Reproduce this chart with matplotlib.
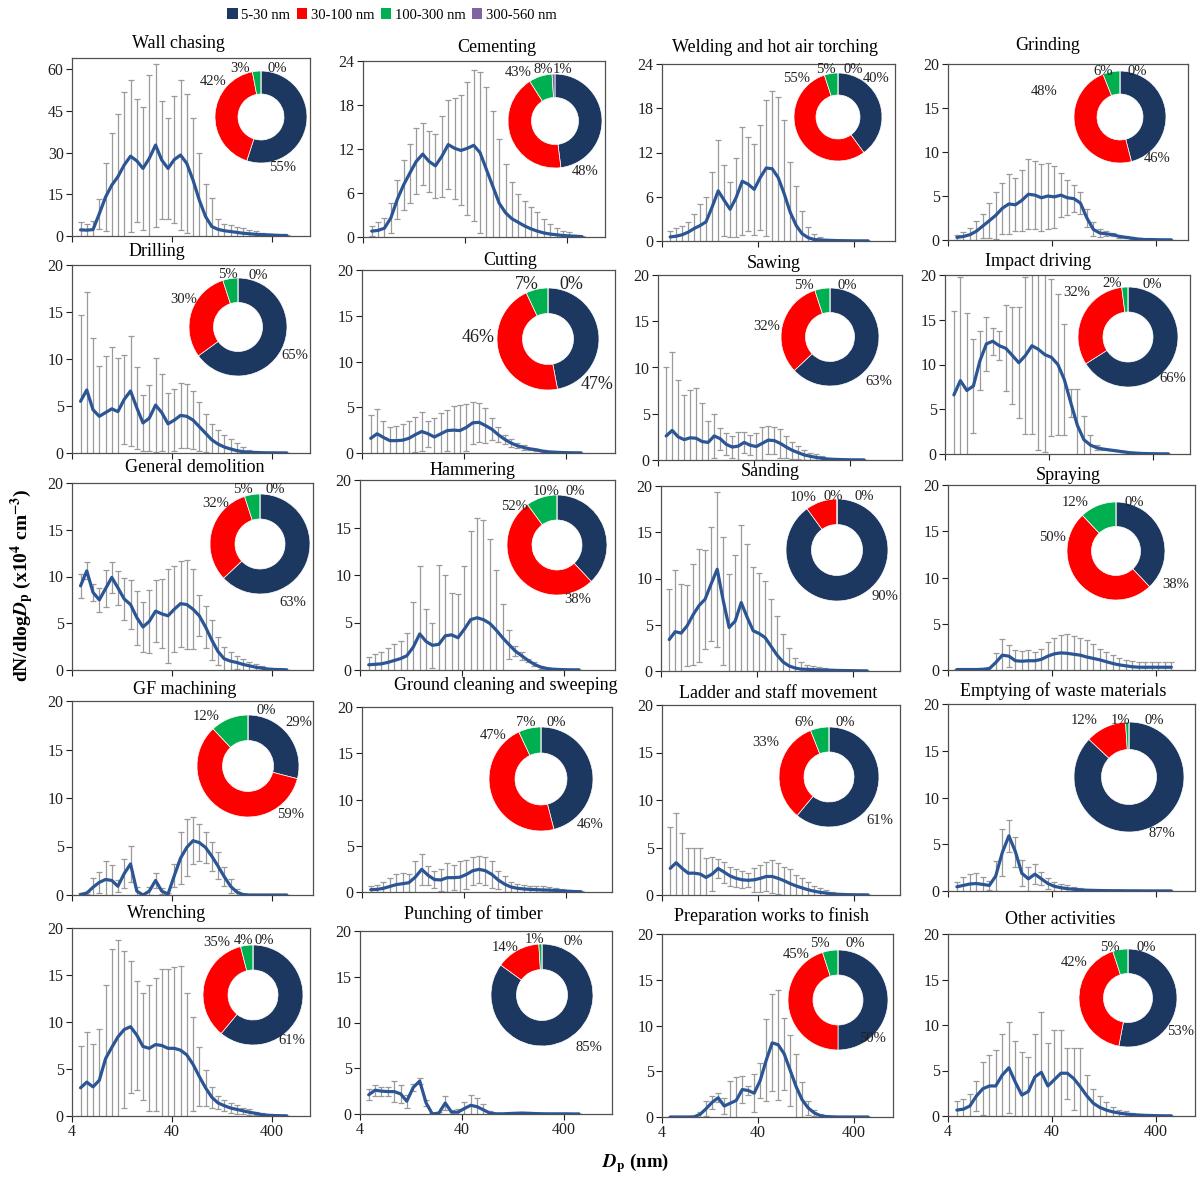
import numpy as np
import matplotlib
matplotlib.use('Agg')
import matplotlib.pyplot as plt
from matplotlib.patches import Patch
from matplotlib.ticker import NullLocator

plt.rcParams['font.family'] = ['Liberation Serif', 'DejaVu Serif']
plt.rcParams['mathtext.fontset'] = 'stix'

# ---------------- data ----------------
diameters = [4.87, 5.62, 6.49, 7.50, 8.66, 10.0, 11.5, 13.3, 15.4, 17.8, 20.5, 23.7,
             27.4, 31.6, 36.5, 42.2, 48.7, 56.2, 64.9, 75.0, 86.6, 100.0, 115, 133,
             154, 178, 205, 237, 274, 316, 365, 422, 487, 562]

size_ranges = ['5-30 nm', '30-100 nm', '100-300 nm', '300-560 nm']

wall_chasing_mean = [2.2, 2.1, 2.3, 8.0, 14.0, 18.3, 21.3, 25.5, 28.7, 27.0, 24.3, 27.9, 32.7, 27.3, 24.3, 27.5, 29.1, 26.1, 20.1, 12.9, 7.0, 3.4, 2.4, 1.9, 1.6, 1.3, 1.0, 0.8, 0.6, 0.5, 0.4, 0.3, 0.2, 0.2]
wall_chasing_upper = [5.0, 4.2, 5.5, 13.4, 26.2, 37.2, 44.0, 51.6, 56.0, 49.1, 46.5, 58.0, 62.0, 48.4, 42.4, 50.5, 56.0, 51.1, 42.3, 30.0, 18.6, 13.8, 6.0, 4.3, 3.8, 3.4, 2.8, 2.2, 1.8, 1.2, 0.8, 0.5, 0.3, 0.3]
wall_chasing_pct = [55, 42, 3, 0]

cementing_mean = [0.8, 0.9, 1.2, 2.6, 5.1, 7.1, 8.7, 10.3, 11.3, 10.3, 9.7, 11.0, 12.6, 12.1, 11.8, 12.1, 12.5, 11.5, 9.2, 6.9, 4.6, 3.3, 2.5, 2.0, 1.5, 1.1, 0.8, 0.55, 0.4, 0.3, 0.2, 0.15, 0.1, 0.05]
cementing_upper = [1.45, 2.0, 2.6, 4.7, 7.8, 10.5, 12.7, 14.8, 15.5, 14.5, 14.1, 16.5, 18.7, 19.0, 19.3, 21.2, 22.8, 22.5, 20.5, 17.2, 13.4, 10.0, 7.5, 5.9, 4.9, 4.1, 3.4, 2.5, 1.8, 1.2, 0.8, 0.7, 0.3, 0.1]
cementing_pct = [48, 43, 8, 1]

welding_mean = [0.55, 0.65, 0.85, 1.2, 1.7, 2.1, 2.6, 4.6, 6.8, 5.5, 4.3, 5.9, 8.1, 7.7, 7.0, 8.6, 9.9, 9.8, 8.6, 6.4, 3.9, 2.1, 1.0, 0.45, 0.2, 0.15, 0.1, 0.08, 0.05, 0.04, 0.03, 0.02, 0.02, 0.02]
welding_upper = [1.4, 1.8, 2.0, 2.6, 3.7, 5.0, 5.9, 9.4, 13.7, 10.3, 8.0, 11.3, 15.4, 14.1, 13.2, 15.7, 19.1, 20.4, 19.5, 16.4, 10.7, 7.5, 4.1, 1.9, 1.0, 0.5, 0.3, 0.2, 0.1, 0.08, 0.06, 0.05, 0.04, 0.04]
welding_pct = [40, 55, 5, 0]

grinding_mean = [0.3, 0.4, 0.6, 1.0, 1.6, 2.2, 2.8, 3.6, 4.1, 4.0, 4.5, 5.2, 5.1, 4.8, 5.0, 4.9, 5.1, 4.8, 4.7, 4.2, 2.5, 1.2, 0.8, 0.7, 0.6, 0.4, 0.3, 0.2, 0.1, 0.05, 0.05, 0.03, 0.02, 0.02]
grinding_upper = [0.6, 0.9, 1.4, 2.2, 3.0, 4.2, 5.5, 6.5, 7.5, 7.0, 8.0, 9.2, 9.0, 8.6, 8.8, 8.4, 7.6, 6.8, 6.2, 5.5, 3.5, 2.0, 1.3, 1.0, 0.8, 0.6, 0.4, 0.3, 0.2, 0.1, 0.07, 0.05, 0.03, 0.03]
grinding_pct = [46, 48, 6, 0]

drilling_mean = [5.5, 6.7, 4.6, 3.9, 4.3, 4.7, 4.4, 5.7, 6.6, 4.8, 3.2, 3.7, 5.1, 4.3, 3.1, 3.5, 4.0, 3.9, 3.5, 2.8, 2.1, 1.4, 0.96, 0.64, 0.43, 0.25, 0.14, 0.08, 0.05, 0.03, 0.02, 0.02, 0.01, 0.01]
drilling_upper = [14.7, 17.1, 12.2, 9.3, 10.3, 11.3, 10.1, 10.4, 12.5, 9.2, 6.2, 7.2, 10.1, 8.4, 6.4, 6.8, 7.5, 7.3, 6.6, 5.4, 4.1, 3.1, 2.4, 1.95, 1.5, 1.06, 0.64, 0.35, 0.2, 0.1, 0.05, 0.04, 0.03, 0.02]
drilling_pct = [65, 30, 5, 0]

cutting_mean = [1.6, 2.1, 1.7, 1.35, 1.35, 1.4, 1.6, 2.0, 2.35, 2.1, 1.75, 2.1, 2.45, 2.5, 2.45, 2.8, 3.3, 3.35, 3.0, 2.6, 2.0, 1.5, 1.1, 0.8, 0.6, 0.45, 0.35, 0.2, 0.12, 0.08, 0.05, 0.03, 0.02, 0.02]
cutting_upper = [4.1, 4.85, 3.5, 2.85, 2.9, 3.2, 3.5, 3.9, 4.45, 3.5, 3.8, 4.4, 4.65, 5.1, 5.3, 5.4, 5.6, 5.5, 4.9, 3.8, 2.8, 2.0, 1.5, 1.1, 0.85, 0.6, 0.45, 0.3, 0.2, 0.12, 0.08, 0.05, 0.03, 0.03]
cutting_pct = [47, 46, 7, 0]

sawing_mean = [2.6, 3.2, 2.5, 2.2, 2.4, 2.35, 2.0, 1.9, 2.6, 2.3, 1.7, 1.4, 1.5, 1.9, 1.6, 1.45, 1.8, 2.15, 2.1, 1.8, 1.4, 1.05, 0.8, 0.55, 0.4, 0.28, 0.18, 0.1, 0.07, 0.05, 0.03, 0.02, 0.02, 0.01]
sawing_upper = [10.0, 11.7, 8.7, 7.0, 7.6, 7.8, 6.2, 4.2, 5.0, 3.5, 2.9, 2.6, 3.0, 3.0, 2.7, 2.9, 3.6, 3.7, 3.6, 3.4, 2.6, 2.0, 1.5, 1.1, 0.8, 0.6, 0.4, 0.25, 0.15, 0.1, 0.06, 0.04, 0.03, 0.02]
sawing_pct = [63, 32, 5, 0]

impact_mean = [6.6, 8.2, 7.1, 7.6, 10.4, 12.3, 12.6, 12.1, 11.8, 11.0, 10.2, 11.0, 12.1, 11.7, 11.1, 10.8, 10.0, 8.3, 5.7, 3.2, 1.6, 1.0, 0.7, 0.55, 0.45, 0.35, 0.25, 0.15, 0.1, 0.06, 0.04, 0.03, 0.02, 0.02]
impact_upper = [16.0, 19.8, 15.7, 12.8, 13.7, 15.3, 14.1, 13.7, 16.6, 16.4, 16.4, 19.8, 22.0, 23.0, 22.0, 19.6, 17.9, 14.5, 7.3, 7.3, 4.2, 2.1, 1.0, 0.6, 0.5, 0.4, 0.3, 0.2, 0.12, 0.08, 0.05, 0.04, 0.03, 0.02]
impact_pct = [66, 32, 2, 0]

demolition_mean = [9.0, 10.6, 8.3, 7.5, 8.7, 9.9, 8.8, 7.6, 7.0, 5.6, 4.6, 5.2, 6.3, 6.0, 5.8, 6.5, 7.1, 7.0, 6.5, 5.8, 4.6, 3.2, 2.0, 1.2, 0.95, 0.8, 0.6, 0.45, 0.3, 0.2, 0.1, 0.06, 0.04, 0.02]
demolition_upper = [10.3, 11.5, 9.2, 8.8, 10.7, 11.6, 10.6, 9.8, 9.6, 8.5, 7.3, 8.6, 9.6, 9.7, 10.8, 11.1, 11.7, 11.8, 10.8, 8.0, 6.8, 5.3, 3.5, 2.5, 1.9, 1.5, 1.2, 0.9, 0.6, 0.4, 0.25, 0.15, 0.1, 0.05]
demolition_pct = [63, 32, 5, 0]

hammering_mean = [0.55, 0.6, 0.65, 0.8, 1.0, 1.2, 1.5, 2.4, 3.8, 3.0, 2.6, 2.7, 3.6, 3.7, 3.4, 4.3, 5.3, 5.5, 5.3, 4.9, 4.2, 3.4, 2.7, 2.0, 1.5, 1.0, 0.6, 0.3, 0.15, 0.08, 0.05, 0.03, 0.02, 0.02]
hammering_upper = [1.4, 1.7, 1.9, 2.3, 2.7, 3.1, 3.9, 7.2, 10.9, 6.4, 5.0, 11.1, 10.0, 8.1, 8.0, 11.0, 14.6, 16.0, 15.8, 13.8, 10.5, 7.0, 4.2, 2.5, 1.9, 1.2, 0.8, 0.45, 0.25, 0.12, 0.08, 0.05, 0.03, 0.03]
hammering_pct = [38, 52, 10, 0]

sanding_mean = [3.4, 4.25, 4.1, 4.9, 6.1, 7.1, 7.75, 9.4, 11.0, 7.6, 4.7, 5.4, 7.4, 5.8, 4.35, 4.05, 3.6, 2.65, 1.7, 0.96, 0.54, 0.32, 0.2, 0.18, 0.15, 0.12, 0.1, 0.08, 0.06, 0.05, 0.04, 0.03, 0.02, 0.02]
sanding_upper = [8.9, 10.9, 9.4, 9.3, 11.6, 13.2, 13.1, 15.6, 19.4, 14.5, 10.5, 12.5, 15.8, 13.7, 11.2, 10.6, 9.7, 7.8, 5.9, 4.0, 2.5, 1.4, 0.96, 0.7, 0.55, 0.4, 0.3, 0.2, 0.15, 0.1, 0.05, 0.03, 0.03, 0.02]
sanding_pct = [90, 10, 0, 0]

spraying_mean = [0.05, 0.05, 0.05, 0.05, 0.08, 0.15, 0.8, 1.6, 1.5, 1.0, 0.95, 1.0, 1.0, 1.15, 1.5, 1.75, 1.85, 1.8, 1.7, 1.6, 1.4, 1.25, 1.1, 0.9, 0.7, 0.55, 0.45, 0.35, 0.3, 0.3, 0.3, 0.3, 0.3, 0.3]
spraying_upper = [0.1, 0.1, 0.1, 0.1, 0.15, 0.3, 1.8, 3.4, 2.7, 2.2, 2.1, 2.2, 2.0, 2.3, 3.0, 3.5, 3.8, 3.9, 3.7, 3.5, 3.2, 2.8, 2.3, 2.0, 1.6, 1.3, 1.1, 1.0, 0.9, 0.9, 0.9, 0.9, 0.9, 0.9]
spraying_pct = [38, 50, 12, 0]

gf_mean = [0.05, 0.2, 0.8, 1.3, 1.6, 1.5, 0.9, 2.2, 3.2, 0.4, 0.0, 0.4, 1.5, 0.4, 0.1, 2.0, 3.8, 4.9, 5.6, 5.4, 4.9, 4.0, 3.0, 1.9, 0.9, 0.3, 0.05, 0.0, 0.0, 0.0, 0.0, 0.0, 0.0, 0.0]
gf_upper = [0.2, 0.3, 1.8, 2.4, 3.5, 3.1, 1.5, 3.7, 5.1, 0.8, 0.0, 0.8, 2.3, 0.7, 0.2, 3.2, 6.5, 7.8, 8.0, 7.3, 6.5, 5.5, 4.4, 2.9, 1.6, 0.6, 0.1, 0.0, 0.0, 0.0, 0.0, 0.0, 0.0, 0.0]
gf_pct = [29, 59, 12, 0]

ground_mean = [0.25, 0.28, 0.4, 0.6, 0.8, 0.9, 1.0, 1.6, 2.45, 1.8, 1.35, 1.3, 1.55, 1.55, 1.6, 1.9, 2.3, 2.45, 2.3, 1.9, 1.3, 0.85, 0.55, 0.4, 0.33, 0.28, 0.25, 0.22, 0.2, 0.17, 0.12, 0.08, 0.05, 0.03]
ground_upper = [0.6, 0.8, 1.1, 1.5, 2.0, 2.1, 2.0, 3.4, 4.1, 2.8, 2.3, 2.5, 3.1, 2.9, 3.4, 3.5, 3.8, 3.9, 3.8, 3.4, 2.3, 1.7, 1.1, 0.9, 0.8, 0.7, 0.65, 0.6, 0.55, 0.45, 0.35, 0.25, 0.15, 0.1]
ground_pct = [46, 47, 7, 0]

ladder_mean = [2.8, 3.4, 2.8, 2.3, 2.3, 2.2, 1.85, 2.2, 2.8, 2.4, 2.0, 1.75, 1.6, 1.55, 1.6, 1.75, 1.95, 1.95, 1.75, 1.5, 1.2, 0.95, 0.75, 0.55, 0.4, 0.28, 0.2, 0.12, 0.07, 0.05, 0.03, 0.02, 0.02, 0.01]
ladder_upper = [7.2, 8.6, 6.5, 5.0, 5.0, 4.9, 3.9, 4.0, 3.8, 3.5, 3.0, 2.7, 2.5, 2.3, 2.85, 3.2, 3.5, 3.7, 3.4, 3.0, 2.7, 2.15, 1.8, 1.4, 1.0, 0.76, 0.5, 0.35, 0.2, 0.12, 0.08, 0.05, 0.03, 0.02]
ladder_pct = [61, 33, 6, 0]

emptying_mean = [0.45, 0.6, 0.75, 0.8, 0.7, 0.6, 1.6, 4.1, 5.9, 4.2, 1.9, 1.3, 1.8, 1.3, 0.8, 0.5, 0.35, 0.25, 0.18, 0.12, 0.08, 0.06, 0.05, 0.04, 0.03, 0.03, 0.02, 0.02, 0.02, 0.01, 0.01, 0.01, 0.01, 0.01]
emptying_upper = [1.0, 1.5, 1.8, 1.9, 1.5, 1.1, 3.2, 6.6, 7.6, 5.8, 3.3, 2.6, 2.9, 2.0, 1.4, 1.0, 0.8, 0.6, 0.45, 0.35, 0.25, 0.2, 0.15, 0.1, 0.08, 0.06, 0.05, 0.04, 0.03, 0.02, 0.02, 0.02, 0.01, 0.01]
emptying_pct = [87, 12, 1, 0]

wrenching_mean = [3.0, 3.6, 3.1, 3.8, 6.1, 7.3, 8.4, 9.2, 9.5, 8.6, 7.4, 7.2, 7.6, 7.5, 7.2, 7.2, 7.0, 6.5, 5.5, 4.2, 3.0, 2.0, 1.4, 1.1, 0.85, 0.7, 0.55, 0.4, 0.28, 0.15, 0.08, 0.05, 0.03, 0.02]
wrenching_upper = [7.5, 8.9, 7.7, 9.3, 13.9, 17.8, 18.7, 17.6, 16.5, 14.4, 13.1, 13.9, 14.7, 15.6, 15.6, 15.9, 16.0, 13.1, 10.5, 7.3, 4.9, 3.1, 2.1, 1.7, 1.35, 1.2, 0.9, 0.7, 0.45, 0.3, 0.15, 0.08, 0.05, 0.03]
wrenching_pct = [61, 35, 4, 0]

punching_mean = [2.1, 2.6, 2.5, 2.45, 2.45, 2.2, 1.4, 2.9, 3.6, 1.2, 0.0, 0.1, 1.2, 0.2, 0.2, 0.6, 0.95, 0.8, 0.45, 0.1, 0.02, 0.02, 0.05, 0.08, 0.1, 0.08, 0.05, 0.03, 0.02, 0.02, 0.02, 0.02, 0.01, 0.01]
punching_upper = [2.7, 3.2, 3.0, 2.9, 3.6, 3.2, 2.1, 3.3, 3.9, 1.5, 0.1, 0.2, 2.0, 0.4, 0.5, 1.3, 2.1, 1.8, 1.1, 0.3, 0.05, 0.05, 0.1, 0.15, 0.2, 0.15, 0.1, 0.06, 0.04, 0.04, 0.03, 0.03, 0.03, 0.02]
punching_pct = [85, 14, 1, 0]

preparation_mean = [0.0, 0.0, 0.0, 0.0, 0.02, 0.3, 0.9, 1.6, 2.1, 1.2, 1.5, 1.8, 3.0, 2.9, 2.6, 4.0, 6.2, 8.1, 7.9, 6.9, 5.1, 3.3, 1.9, 1.0, 0.45, 0.15, 0.05, 0.02, 0.0, 0.0, 0.0, 0.0, 0.0, 0.0]
preparation_upper = [0.0, 0.0, 0.0, 0.0, 0.05, 0.6, 1.7, 2.3, 2.6, 2.1, 3.9, 4.4, 4.5, 3.4, 4.7, 5.9, 10.7, 13.4, 13.9, 10.8, 9.0, 6.9, 3.8, 1.8, 0.8, 0.3, 0.1, 0.05, 0.0, 0.0, 0.0, 0.0, 0.0, 0.0]
preparation_pct = [50, 45, 5, 0]

other_mean = [0.65, 0.75, 1.1, 2.2, 3.0, 3.3, 3.3, 4.5, 5.3, 3.7, 2.3, 2.7, 4.3, 4.8, 3.3, 4.0, 4.7, 4.7, 4.1, 3.2, 2.2, 1.4, 0.95, 0.65, 0.45, 0.32, 0.22, 0.15, 0.1, 0.07, 0.05, 0.03, 0.02, 0.02]
other_upper = [1.6, 1.9, 2.4, 3.8, 5.9, 6.7, 7.2, 9.0, 10.3, 8.2, 7.0, 6.5, 9.0, 11.4, 8.0, 9.5, 9.5, 7.5, 7.5, 7.5, 4.5, 3.0, 2.2, 1.5, 1.0, 0.7, 0.5, 0.35, 0.25, 0.15, 0.1, 0.06, 0.04, 0.03]
other_pct = [53, 42, 5, 0]

titles = ['Wall chasing', 'Cementing', 'Welding and hot air torching', 'Grinding',
          'Drilling', 'Cutting', 'Sawing', 'Impact driving',
          'General demolition', 'Hammering', 'Sanding', 'Spraying',
          'GF machining', 'Ground cleaning and sweeping', 'Ladder and staff movement', 'Emptying of waste materials',
          'Wrenching', 'Punching of timber', 'Preparation works to finish', 'Other activities']

means = [wall_chasing_mean, cementing_mean, welding_mean, grinding_mean,
         drilling_mean, cutting_mean, sawing_mean, impact_mean,
         demolition_mean, hammering_mean, sanding_mean, spraying_mean,
         gf_mean, ground_mean, ladder_mean, emptying_mean,
         wrenching_mean, punching_mean, preparation_mean, other_mean]
uppers = [wall_chasing_upper, cementing_upper, welding_upper, grinding_upper,
          drilling_upper, cutting_upper, sawing_upper, impact_upper,
          demolition_upper, hammering_upper, sanding_upper, spraying_upper,
          gf_upper, ground_upper, ladder_upper, emptying_upper,
          wrenching_upper, punching_upper, preparation_upper, other_upper]
pcts = [wall_chasing_pct, cementing_pct, welding_pct, grinding_pct,
        drilling_pct, cutting_pct, sawing_pct, impact_pct,
        demolition_pct, hammering_pct, sanding_pct, spraying_pct,
        gf_pct, ground_pct, ladder_pct, emptying_pct,
        wrenching_pct, punching_pct, preparation_pct, other_pct]

# ---------------- layout (pixels) ----------------
W, H = 1198, 1177
boxes = [(72, 58, 310, 236), (363, 61, 605, 237), (662, 64, 895, 241), (948, 64, 1188, 240),
         (72, 265, 310, 453), (362, 270, 615, 453), (658, 275, 902, 460), (945, 275, 1190, 454),
         (72, 483, 313, 670), (360, 480, 615, 670), (661, 486, 900, 671), (948, 485, 1195, 670),
         (72, 701, 313, 895), (362, 707, 612, 892), (662, 705, 900, 895), (948, 704, 1195, 891),
         (72, 928, 310, 1116), (360, 931, 612, 1114), (662, 934, 893, 1117), (948, 934, 1195, 1116)]
ylims = [64, 24, 24] + [20] * 17
ytick_max = [60, 24, 24] + [20] * 17
ytick_step = [15, 6, 6] + [5] * 17
decade_px = [100, 102, 96, 104]

title_pos = [(178, 44), (497, 48), (775, 48), (1048, 46), (157, 251), (510, 261), (774, 263), (1038, 262),
             (195, 467), (473, 470), (770, 472), (1068, 476), (185, 689), (506, 686), (778, 694), (1063, 691),
             (167, 914), (473, 914), (771, 916), (1060, 919)]

donuts = [(261, 117, 46), (555, 121, 47), (838, 117, 44), (1120, 117, 46),
          (238, 327, 49), (548, 339, 51), (830, 337, 49), (1128, 337, 50),
          (260, 544, 50), (557, 545, 50), (837, 550, 51), (1116, 551, 49),
          (248, 766, 51), (541, 779, 52), (829, 777, 50), (1129, 777, 55),
          (253, 995, 50), (542, 995, 51), (838, 1000, 50), (1128, 998, 49)]

# label offsets (navy, red, green, purple) in donut-radius units
label_pos = [
    [(0.47, -1.1), (-1.04, 0.77), (-0.45, 1.06), (0.36, 1.06)],
    [(0.64, -1.07), (-0.79, 1.04), (-0.25, 1.1), (0.16, 1.1)],
    [(0.86, 0.88), (-0.94, 0.88), (-0.27, 1.08), (0.35, 1.08)],
    [(0.8, -0.9), (-1.65, 0.55), (-0.37, 0.98), (0.37, 0.98)],
    [(1.16, -0.59), (-1.1, 0.57), (-0.2, 1.08), (0.41, 1.06)],
    [(0.96, -0.9), (-1.37, 0.02), (-0.41, 1.06), (0.45, 1.06)],
    [(1.0, -0.9), (-1.29, 0.22), (-0.53, 1.06), (0.35, 1.06)],
    [(0.9, -0.82), (-1.02, 0.88), (-0.32, 1.06), (0.48, 1.04)],
    [(0.66, -1.18), (-0.88, 0.8), (-0.34, 1.08), (0.3, 1.08)],
    [(0.41, -1.08), (-0.86, 0.76), (-0.22, 1.06), (0.37, 1.06)],
    [(0.94, -0.92), (-0.67, 1.02), (-0.08, 1.04), (0.53, 1.04)],
    [(1.22, -0.68), (-1.3, 0.28), (-0.84, 1.0), (0.38, 1.0)],
    [(0.99, 0.85), (0.83, -0.95), (-0.83, 0.97), (0.36, 1.08)],
    [(0.94, -0.87), (-0.92, 0.83), (-0.29, 1.08), (0.29, 1.08)],
    [(1.02, -0.86), (-1.26, 0.68), (-0.49, 1.1), (0.33, 1.1)],
    [(0.6, -1.02), (-0.82, 1.02), (-0.16, 1.02), (0.46, 1.02)],
    [(0.78, -0.92), (-0.72, 1.04), (-0.2, 1.1), (0.22, 1.1)],
    [(0.93, -1.03), (-0.73, 0.93), (-0.14, 1.09), (0.61, 1.05)],
    [(0.69, -0.76), (-0.84, 0.9), (-0.37, 1.14), (0.35, 1.14)],
    [(1.08, -0.69), (-1.09, 0.73), (-0.38, 1.04), (0.38, 1.04)],
]

pie_colors = ['#1C3760', '#FF0000', '#00B050', '#8064A2']
line_color = '#2B5594'
err_color = '#9A9A9A'
spine_color = '#505050'


def px_rect(x0, y0, x1, y1):
    return [x0 / W, 1 - y1 / H, (x1 - x0) / W, (y1 - y0) / H]


fig = plt.figure(figsize=(W / 100, H / 100), dpi=100)

for i in range(20):
    x0, y0, x1, y1 = boxes[i]
    col = i % 4
    row = i // 4
    ax = fig.add_axes(px_rect(x0, y0, x1, y1))
    ax.set_xscale('log')
    ax.set_xlim(4, 4 * 10 ** ((x1 - x0) / decade_px[col]))
    ax.set_ylim(0, ylims[i])
    m = np.array(means[i])
    up = np.array(uppers[i])
    err = np.maximum(up - m, 0)
    ax.errorbar(diameters, m, yerr=err, fmt='none', ecolor=err_color,
                elinewidth=0.9, capsize=2.2, capthick=0.9, zorder=2)
    ax.plot(diameters, m, color=line_color, lw=2.3, zorder=3,
            solid_joinstyle='round', solid_capstyle='round')
    ax.set_xticks([4, 40, 400])
    ax.xaxis.set_minor_locator(NullLocator())
    if row == 4:
        ax.set_xticklabels(['4', '40', '400'])
    else:
        ax.set_xticklabels([])
    yt = np.arange(0, ytick_max[i] + 0.01, ytick_step[i])
    ax.set_yticks(yt)
    ax.set_yticklabels([f'{int(v)}' for v in yt])
    ax.tick_params(axis='both', direction='out', length=4, width=0.8,
                   labelsize=11.5, colors='#202020', pad=2)
    for s in ax.spines.values():
        s.set_color(spine_color)
        s.set_linewidth(0.9)
    fig.text(title_pos[i][0] / W, 1 - title_pos[i][1] / H, titles[i],
             ha='center', va='center', fontsize=13)

    # donut inset
    cx, cy, r = donuts[i]
    pax = fig.add_axes(px_rect(cx - r, cy - r, cx + r, cy + r))
    pax.pie(pcts[i], colors=pie_colors, startangle=90, counterclock=False,
            wedgeprops=dict(width=0.5, edgecolor='white', linewidth=0.5))
    pax.set_xlim(-1, 1)
    pax.set_ylim(-1, 1)
    fs = 13 if i == 5 else 10.5
    for k in range(4):
        lx, ly = label_pos[i][k]
        pax.text(lx, ly, f'{pcts[i][k]}%', ha='center', va='center',
                 fontsize=fs, color='#202020')

# legend
handles = [Patch(facecolor=c, edgecolor='none', label=l) for c, l in zip(pie_colors, size_ranges)]
fig.legend(handles=handles, loc='center', bbox_to_anchor=(392 / W, 1 - 15 / H), ncol=4,
           frameon=False, handlelength=0.7, handleheight=0.7, handletextpad=0.25,
           columnspacing=0.45, fontsize=10.5)

# axis labels
fig.text(22 / W, 1 - 585 / H,
         r'dN/dlog$\mathbfit{D}_{\mathbf{p}}$ (x10$^{\mathbf{4}}$ cm$^{\mathbf{-3}}$)',
         rotation=90, ha='center', va='center', fontsize=14, fontweight='bold')
fig.text(636 / W, 1 - 1163 / H, r'$\mathbfit{D}_{\mathbf{p}}$ (nm)',
         ha='center', va='center', fontsize=13.5, fontweight='bold')

fig.savefig('out.png', dpi=100)
